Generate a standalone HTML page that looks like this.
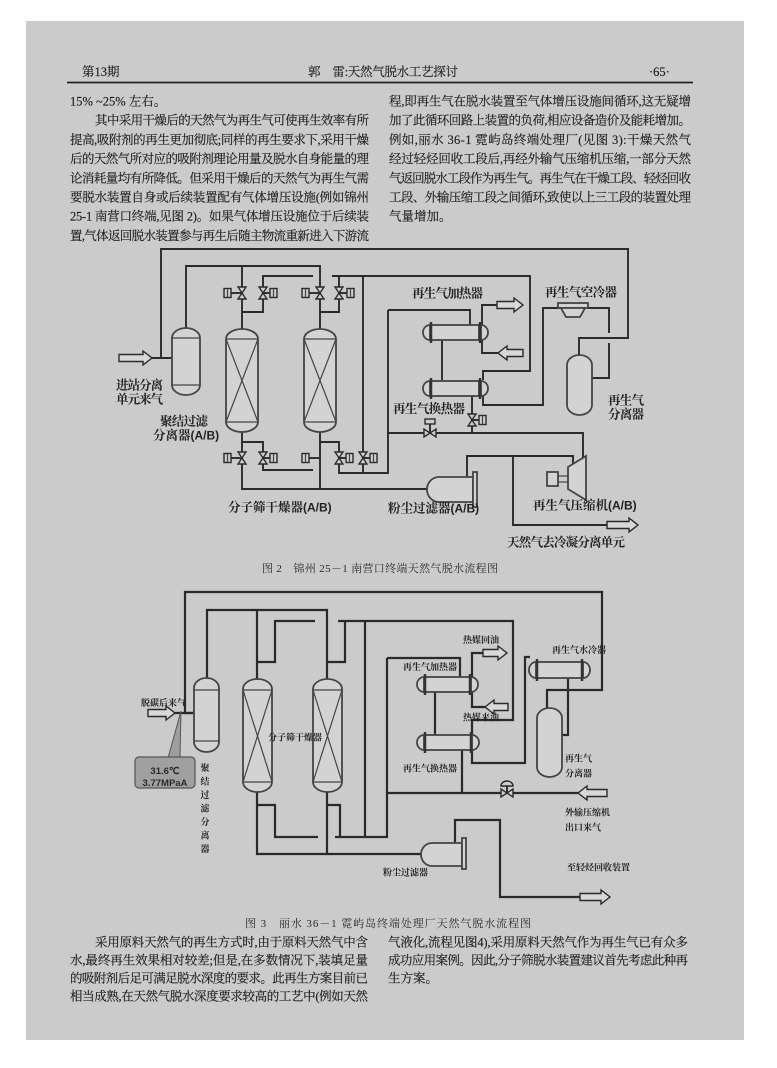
<!DOCTYPE html>
<html><head><meta charset="utf-8"><style>
html,body{margin:0;padding:0;background:#fff;}
svg{display:block;}
.t{font-family:"Liberation Serif","Noto Serif CJK SC",serif;font-size:12.5px;fill:#1c1c1c;stroke:#1c1c1c;stroke-width:0.15;}
.lb{font-family:"Liberation Serif","Noto Serif CJK SC",serif;font-size:12.5px;font-weight:bold;fill:#222;}
.ls{font-family:"Liberation Serif","Noto Serif CJK SC",serif;font-size:9px;font-weight:bold;fill:#222;}
.cap{font-family:"Liberation Serif","Noto Serif CJK SC",serif;font-size:11px;fill:#2a2a2a;}
.ab{font-family:"Liberation Sans",sans-serif;font-weight:bold;}
.ln{fill:none;stroke:#2a2a2a;stroke-width:1.9;}
.ln3{fill:none;stroke:#2a2a2a;stroke-width:2.2;}
.v{fill:#d3d3d3;stroke:#444;stroke-width:1.8;}
.th{fill:none;stroke:#444;stroke-width:1.2;}
.vl{fill:#cfcfcf;stroke:#2a2a2a;stroke-width:1.4;}
.ar{fill:#d8d8d8;stroke:#2a2a2a;stroke-width:1.4;}
</style></head><body>
<svg width="777" height="1068" viewBox="0 0 777 1068" xmlns="http://www.w3.org/2000/svg">
<rect x="0" y="0" width="777" height="1068" fill="#ffffff"/>
<rect x="26" y="21" width="718" height="1019" fill="#cbcbcb"/>

<!-- header -->
<text class="t" x="82" y="76">第13期</text>
<text class="t" x="308" y="76" textLength="150" lengthAdjust="spacing">郭　雷:天然气脱水工艺探讨</text>
<text class="t" x="649" y="76">·65·</text>
<line x1="67" y1="82.5" x2="693" y2="82.5" stroke="#222" stroke-width="1.8"/>

<!-- top text left -->
<text class="t" x="70" y="105.5">15% ~25% 左右。</text>
<text class="t" x="95" y="124.7" textLength="274" lengthAdjust="spacing">其中采用干燥后的天然气为再生气可使再生效率有所</text>
<text class="t" x="70" y="143.9" textLength="299" lengthAdjust="spacing">提高,吸附剂的再生更加彻底;同样的再生要求下,采用干燥</text>
<text class="t" x="70" y="163.1" textLength="299" lengthAdjust="spacing">后的天然气所对应的吸附剂理论用量及脱水自身能量的理</text>
<text class="t" x="70" y="182.3" textLength="299" lengthAdjust="spacing">论消耗量均有所降低。但采用干燥后的天然气为再生气需</text>
<text class="t" x="70" y="201.5" textLength="299" lengthAdjust="spacing">要脱水装置自身或后续装置配有气体增压设施(例如锦州</text>
<text class="t" x="70" y="220.7" textLength="299" lengthAdjust="spacing">25-1 南营口终端,见图 2)。如果气体增压设施位于后续装</text>
<text class="t" x="70" y="239.9" textLength="299" lengthAdjust="spacing">置,气体返回脱水装置参与再生后随主物流重新进入下游流</text>
<!-- top text right -->
<text class="t" x="389" y="105.5" textLength="302" lengthAdjust="spacing">程,即再生气在脱水装置至气体增压设施间循环,这无疑增</text>
<text class="t" x="389" y="124.7" textLength="302" lengthAdjust="spacing">加了此循环回路上装置的负荷,相应设备造价及能耗增加。</text>
<text class="t" x="389" y="143.9" textLength="302" lengthAdjust="spacing">例如,丽水 36-1 霓屿岛终端处理厂(见图 3):干燥天然气</text>
<text class="t" x="389" y="163.1" textLength="302" lengthAdjust="spacing">经过轻烃回收工段后,再经外输气压缩机压缩,一部分天然</text>
<text class="t" x="389" y="182.3" textLength="302" lengthAdjust="spacing">气返回脱水工段作为再生气。再生气在干燥工段、轻烃回收</text>
<text class="t" x="389" y="201.5" textLength="302" lengthAdjust="spacing">工段、外输压缩工段之间循环,致使以上三工段的装置处理</text>
<text class="t" x="389" y="220.7">气量增加。</text>

<!-- ================= FIGURE 2 ================= -->
<g>
<path class="ln" d="M579,355 V338 H628 V249 H161 V358"/>
<path class="ln" d="M152,358 H172"/>
<path class="ln" d="M186,328 V266 H320 V329"/>
<path class="ln" d="M242,266 V329"/>
<path class="ln" d="M242,312 H263 V276 H313"/>
<path class="ln" d="M320,312 H339 V276"/>
<path class="ln" d="M332,276 H530 V371 H483 V380"/>
<path class="ln" d="M363,276 V473"/>
<path class="ln" d="M388,310 H470 V325"/>
<path class="ln" d="M388,310 V473 H339 V442 H320"/>
<path class="ln" d="M242,432 V489 H427"/>
<path class="ln" d="M320,432 V489"/>
<path class="ln" d="M242,442 H263 V470 H313"/>
<path class="ln" d="M442,340 V380"/>
<path class="ln" d="M482,325 V305 H497"/>
<path class="ln" d="M482,340 V353 H498"/>
<path class="ln" d="M483,395 V405 H543 V308 H560"/>
<path class="ln" d="M587,308 H609 V333"/>
<path class="ln" d="M609,343 V378 H592"/>
<path class="ln" d="M472,395 V433"/>
<path class="ln" d="M583,458 V433 H388"/>
<path class="ln" d="M467,477 V456 H573 V464"/>
<path class="ln" d="M513,456 V525 H607"/>

<rect class="v" x="172" y="328" width="28" height="67" rx="14" ry="10"/>
<line class="th" x1="172" y1="338" x2="200" y2="338"/>
<line class="th" x1="172" y1="385" x2="200" y2="385"/>
<rect class="v" x="226" y="329" width="32" height="103" rx="16" ry="10"/>
<line class="th" x1="226" y1="339" x2="258" y2="339"/>
<line class="th" x1="226" y1="422" x2="258" y2="422"/>
<line class="th" x1="226" y1="339" x2="258" y2="422"/>
<line class="th" x1="258" y1="339" x2="226" y2="422"/>
<rect class="v" x="304" y="329" width="32" height="103" rx="16" ry="10"/>
<line class="th" x1="304" y1="339" x2="336" y2="339"/>
<line class="th" x1="304" y1="422" x2="336" y2="422"/>
<line class="th" x1="304" y1="339" x2="336" y2="422"/>
<line class="th" x1="336" y1="339" x2="304" y2="422"/>

<g>
<path class="vl" d="M238,287 L246,287 L238,299 L246,299 Z"/><line class="ln" x1="231" y1="293" x2="242" y2="293" stroke-width="1.4"/><rect class="vl" x="224" y="288.5" width="7" height="9"/><line class="th" x1="227.5" y1="288.5" x2="227.5" y2="297.5"/>
<path class="vl" d="M259,287 L267,287 L259,299 L267,299 Z"/><line class="ln" x1="263" y1="293" x2="270" y2="293" stroke-width="1.4"/><rect class="vl" x="270" y="288.5" width="7" height="9"/><line class="th" x1="273.5" y1="288.5" x2="273.5" y2="297.5"/>
<path class="vl" d="M316,287 L324,287 L316,299 L324,299 Z"/><line class="ln" x1="309" y1="293" x2="320" y2="293" stroke-width="1.4"/><rect class="vl" x="302" y="288.5" width="7" height="9"/><line class="th" x1="305.5" y1="288.5" x2="305.5" y2="297.5"/>
<path class="vl" d="M335,287 L343,287 L335,299 L343,299 Z"/><line class="ln" x1="339" y1="293" x2="347" y2="293" stroke-width="1.4"/><rect class="vl" x="347" y="288.5" width="7" height="9"/><line class="th" x1="350.5" y1="288.5" x2="350.5" y2="297.5"/>

<path class="vl" d="M238,452 L246,452 L238,464 L246,464 Z"/><line class="ln" x1="231" y1="458" x2="242" y2="458" stroke-width="1.4"/><rect class="vl" x="224" y="453.5" width="7" height="9"/><line class="th" x1="227.5" y1="453.5" x2="227.5" y2="462.5"/>
<path class="vl" d="M259,452 L267,452 L259,464 L267,464 Z"/><line class="ln" x1="263" y1="458" x2="270" y2="458" stroke-width="1.4"/><rect class="vl" x="270" y="453.5" width="7" height="9"/><line class="th" x1="273.5" y1="453.5" x2="273.5" y2="462.5"/>
<line class="ln" x1="309" y1="458" x2="320" y2="458" stroke-width="1.4"/><rect class="vl" x="302" y="453.5" width="7" height="9"/><line class="th" x1="305.5" y1="453.5" x2="305.5" y2="462.5"/>
<path class="vl" d="M335,452 L343,452 L335,464 L343,464 Z"/><line class="ln" x1="339" y1="458" x2="346" y2="458" stroke-width="1.4"/><rect class="vl" x="346" y="453.5" width="7" height="9"/><line class="th" x1="349.5" y1="453.5" x2="349.5" y2="462.5"/>
<path class="vl" d="M359,452 L367,452 L359,464 L367,464 Z"/><line class="ln" x1="363" y1="458" x2="370" y2="458" stroke-width="1.4"/><rect class="vl" x="370" y="453.5" width="7" height="9"/><line class="th" x1="373.5" y1="453.5" x2="373.5" y2="462.5"/>

<path class="vl" d="M468,414 L476,414 L468,426 L476,426 Z"/><line class="ln" x1="472" y1="420" x2="479" y2="420" stroke-width="1.4"/><rect class="vl" x="479" y="415.5" width="7" height="9"/><line class="th" x1="482.5" y1="415.5" x2="482.5" y2="424.5"/>
<path class="vl" d="M424,429 L424,437 L436,429 L436,437 Z"/>
<line class="ln" x1="430" y1="433" x2="430" y2="424" stroke-width="1.4"/>
<rect class="vl" x="425" y="419" width="10" height="5"/>
</g>

<g>
<path class="v" d="M430,325 A7 7.5 0 0 0 430,340 Z"/>
<rect class="v" x="431" y="325" width="48" height="15"/>
<path class="v" d="M481,325 A7 7.5 0 0 1 481,340 Z"/>
<line x1="431" y1="322" x2="431" y2="343" stroke="#333" stroke-width="2.5"/>
<line x1="480" y1="322" x2="480" y2="343" stroke="#333" stroke-width="2.5"/>

<path class="v" d="M430,381 A7 7.5 0 0 0 430,396 Z"/>
<rect class="v" x="431" y="381" width="48" height="15"/>
<path class="v" d="M481,381 A7 7.5 0 0 1 481,396 Z"/>
<line x1="431" y1="378" x2="431" y2="399" stroke="#333" stroke-width="2.5"/>
<line x1="480" y1="378" x2="480" y2="399" stroke="#333" stroke-width="2.5"/>
</g>

<rect class="v" x="558" y="303" width="30" height="5"/>
<polygon class="v" points="561,308 585,308 580,317 566,317"/>
<rect class="v" x="567" y="355" width="25" height="60" rx="12.5" ry="10"/>
<path class="v" d="M439,477 H473 V502 H439 A12 12.5 0 0 1 439,477 Z"/>
<rect class="v" x="473" y="472" width="4" height="35"/>
<polygon class="v" points="568,467 586,456 586,500 568,489"/>
<rect class="v" x="547" y="472" width="11" height="14"/>
<line class="th" x1="558" y1="476" x2="568" y2="476"/>
<line class="th" x1="558" y1="482" x2="568" y2="482"/>

<polygon class="ar" points="119,354.5 143,354.5 143,351 152,358 143,365 143,361.5 119,361.5"/>
<polygon class="ar" points="497,301.5 514,301.5 514,298 523,305 514,312 514,308.5 497,308.5"/>
<polygon class="ar" points="523,349.5 507,349.5 507,346 498,353 507,360 507,356.5 523,356.5"/>
<polygon class="ar" points="607,521.5 629,521.5 629,518 638,525 629,532 629,528.5 607,528.5"/>

<text class="lb" x="412" y="297.5" textLength="71" lengthAdjust="spacing">再生气加热器</text>
<text class="lb" x="545" y="296.5" textLength="72" lengthAdjust="spacing">再生气空冷器</text>
<text class="lb" x="393" y="413" textLength="72" lengthAdjust="spacing">再生气换热器</text>
<text class="lb" x="608" y="404.5" textLength="36" lengthAdjust="spacing">再生气</text>
<text class="lb" x="608" y="418.5" textLength="36" lengthAdjust="spacing">分离器</text>
<text class="lb" x="116" y="389.5" textLength="47" lengthAdjust="spacing">进站分离</text>
<text class="lb" x="116" y="403.5" textLength="47" lengthAdjust="spacing">单元来气</text>
<text class="lb" x="160" y="425.5" textLength="48" lengthAdjust="spacing">聚结过滤</text>
<text class="lb" x="153" y="439.5">分离器<tspan class="ab" font-size="12">(A/B)</tspan></text>
<text class="lb" x="228" y="511.5">分子筛干燥器<tspan class="ab" font-size="12">(A/B)</tspan></text>
<text class="lb" x="388" y="512.5">粉尘过滤器<tspan class="ab" font-size="12">(A/B)</tspan></text>
<text class="lb" x="533" y="509.5">再生气压缩机<tspan class="ab" font-size="12">(A/B)</tspan></text>
<text class="lb" x="507" y="546.5" textLength="118" lengthAdjust="spacing">天然气去冷凝分离单元</text>
</g>

<text class="cap" x="262" y="572" textLength="236" lengthAdjust="spacing">图 2　锦州 25－1 南营口终端天然气脱水流程图</text>

<!-- ================= FIGURE 3 ================= -->
<g>
<path class="ln3" d="M547,708 V690 H602 V592 H185 V713 H194"/>
<path class="ln3" d="M175,713 H194"/>
<path class="ln3" d="M207,678 V610 H327 V679"/>
<path class="ln3" d="M257,610 V679"/>
<path class="ln3" d="M257,662 H275 V621 H315"/>
<path class="ln3" d="M327,662 H345 V621"/>
<path class="ln3" d="M338,621 H513 V720 H472 V735"/>
<path class="ln3" d="M365,621 V837"/>
<path class="ln3" d="M387,658 H460 V677"/>
<path class="ln3" d="M387,658 V837 H335"/>
<path class="ln3" d="M257,792 V854 H421"/>
<path class="ln3" d="M327,792 V854"/>
<path class="ln3" d="M257,805 H275 V837 H318"/>
<path class="ln3" d="M327,805 H340 V837"/>
<path class="ln3" d="M455,843 V820 H500 V897 H580"/>
<path class="ln3" d="M435,692 V735"/>
<path class="ln3" d="M472,677 V653 H483"/>
<path class="ln3" d="M472,692 V707 H485"/>
<path class="ln3" d="M472,750 V763 H525 V657 H530"/>
<path class="ln3" d="M568,678 V735 H562"/>
<path class="ln3" d="M462,750 V793"/>
<path class="ln3" d="M387,793 H578"/>

<rect class="v" x="194" y="678" width="25" height="74" rx="12.5" ry="10"/>
<line class="th" x1="194" y1="690" x2="219" y2="690"/>
<line class="th" x1="194" y1="741" x2="219" y2="741"/>
<rect class="v" x="243" y="679" width="29" height="113" rx="14.5" ry="10"/>
<line class="th" x1="243" y1="690" x2="272" y2="690"/>
<line class="th" x1="243" y1="782" x2="272" y2="782"/>
<line class="th" x1="243" y1="690" x2="272" y2="782"/>
<line class="th" x1="272" y1="690" x2="243" y2="782"/>
<rect class="v" x="313" y="679" width="29" height="113" rx="14.5" ry="10"/>
<line class="th" x1="313" y1="690" x2="342" y2="690"/>
<line class="th" x1="313" y1="782" x2="342" y2="782"/>
<line class="th" x1="313" y1="690" x2="342" y2="782"/>
<line class="th" x1="342" y1="690" x2="313" y2="782"/>

<path class="v" d="M424,677 A7 7.5 0 0 0 424,692 Z"/>
<rect class="v" x="425" y="677" width="45" height="15"/>
<path class="v" d="M471,677 A7 7.5 0 0 1 471,692 Z"/>
<line x1="425" y1="674" x2="425" y2="695" stroke="#333" stroke-width="2.5"/>
<line x1="470" y1="674" x2="470" y2="695" stroke="#333" stroke-width="2.5"/>
<path class="v" d="M424,735 A7 7.5 0 0 0 424,750 Z"/>
<rect class="v" x="425" y="735" width="46" height="15"/>
<path class="v" d="M472,735 A7 7.5 0 0 1 472,750 Z"/>
<line x1="425" y1="732" x2="425" y2="753" stroke="#333" stroke-width="2.5"/>
<line x1="471" y1="732" x2="471" y2="753" stroke="#333" stroke-width="2.5"/>
<path class="v" d="M536,662 A7 8 0 0 0 536,678 Z"/>
<rect class="v" x="537" y="662" width="45" height="16"/>
<path class="v" d="M583,662 A7 8 0 0 1 583,678 Z"/>
<line x1="537" y1="659" x2="537" y2="681" stroke="#333" stroke-width="2.5"/>
<line x1="582" y1="659" x2="582" y2="681" stroke="#333" stroke-width="2.5"/>
<rect class="v" x="537" y="708" width="25" height="69" rx="12.5" ry="10"/>
<path class="v" d="M432,843 H462 V866 H432 A11 11.5 0 0 1 432,843 Z"/>
<rect class="v" x="462" y="838" width="4" height="31"/>
<path class="vl" d="M501,789 L501,797 L513,789 L513,797 Z"/>
<line class="ln" x1="507" y1="793" x2="507" y2="786" stroke-width="1.4"/>
<path class="vl" d="M501,786 A6 5 0 0 1 513,786 Z"/>

<polygon class="ar" points="148,709.5 166,709.5 166,706 175,713 166,720 166,716.5 148,716.5"/>
<polygon class="ar" points="483,649.5 498,649.5 498,646 507,653 498,660 498,656.5 483,656.5"/>
<polygon class="ar" points="508,703.5 494,703.5 494,700 485,707 494,714 494,710.5 508,710.5"/>
<polygon class="ar" points="607,789.5 587,789.5 587,786 578,793 587,800 587,796.5 607,796.5"/>
<polygon class="ar" points="580,893.5 601,893.5 601,890 610,897 601,904 601,900.5 580,900.5"/>

<polygon points="168,758 181,711 180,758" fill="#9e9e9e" stroke="#555" stroke-width="1"/>
<rect x="135" y="757" width="60" height="31" rx="4" fill="#a0a0a0" stroke="#555" stroke-width="1.2"/>
<text x="165" y="774" text-anchor="middle" font-family="Liberation Sans,sans-serif" font-size="9.5" font-weight="bold" fill="#2a2a2a">31.6℃</text>
<text x="165" y="786" text-anchor="middle" font-family="Liberation Sans,sans-serif" font-size="9.5" font-weight="bold" fill="#2a2a2a">3.77MPaA</text>

<text class="ls" x="141" y="706">脱碳后来气</text>
<text class="ls" x="268" y="740.5">分子筛干燥器</text>
<text class="ls" x="463" y="643">热媒回油</text>
<text class="ls" x="463" y="720.5">热媒来油</text>
<text class="ls" x="403" y="670">再生气加热器</text>
<text class="ls" x="403" y="771.5">再生气换热器</text>
<text class="ls" x="552" y="653">再生气水冷器</text>
<text class="ls" x="565" y="761.5">再生气</text>
<text class="ls" x="565" y="776.5">分离器</text>
<text class="ls" x="565" y="815.5">外输压缩机</text>
<text class="ls" x="565" y="830.5">出口来气</text>
<text class="ls" x="567" y="870.5">至轻烃回收装置</text>
<text class="ls" x="383" y="875.5">粉尘过滤器</text>
<text class="ls" x="205" y="771" text-anchor="middle" font-size="10">聚</text>
<text class="ls" x="205" y="784.5" text-anchor="middle" font-size="10">结</text>
<text class="ls" x="205" y="798" text-anchor="middle" font-size="10">过</text>
<text class="ls" x="205" y="811.5" text-anchor="middle" font-size="10">滤</text>
<text class="ls" x="205" y="825" text-anchor="middle" font-size="10">分</text>
<text class="ls" x="205" y="838.5" text-anchor="middle" font-size="10">离</text>
<text class="ls" x="205" y="852" text-anchor="middle" font-size="10">器</text>
</g>

<text class="cap" x="245" y="927" textLength="286" lengthAdjust="spacing">图 3　丽水 36－1 霓屿岛终端处理厂天然气脱水流程图</text>

<!-- bottom text -->
<text class="t" x="95" y="946.5" textLength="273" lengthAdjust="spacing">采用原料天然气的再生方式时,由于原料天然气中含</text>
<text class="t" x="70" y="964.5" textLength="298" lengthAdjust="spacing">水,最终再生效果相对较差;但是,在多数情况下,装填足量</text>
<text class="t" x="70" y="982.5" textLength="298" lengthAdjust="spacing">的吸附剂后足可满足脱水深度的要求。此再生方案目前已</text>
<text class="t" x="70" y="1000.5" textLength="298" lengthAdjust="spacing">相当成熟,在天然气脱水深度要求较高的工艺中(例如天然</text>
<text class="t" x="388" y="946.5" textLength="300" lengthAdjust="spacing">气液化,流程见图4),采用原料天然气作为再生气已有众多</text>
<text class="t" x="388" y="964.5" textLength="300" lengthAdjust="spacing">成功应用案例。因此,分子筛脱水装置建议首先考虑此种再</text>
<text class="t" x="388" y="982.5">生方案。</text>
</svg>
</body></html>
